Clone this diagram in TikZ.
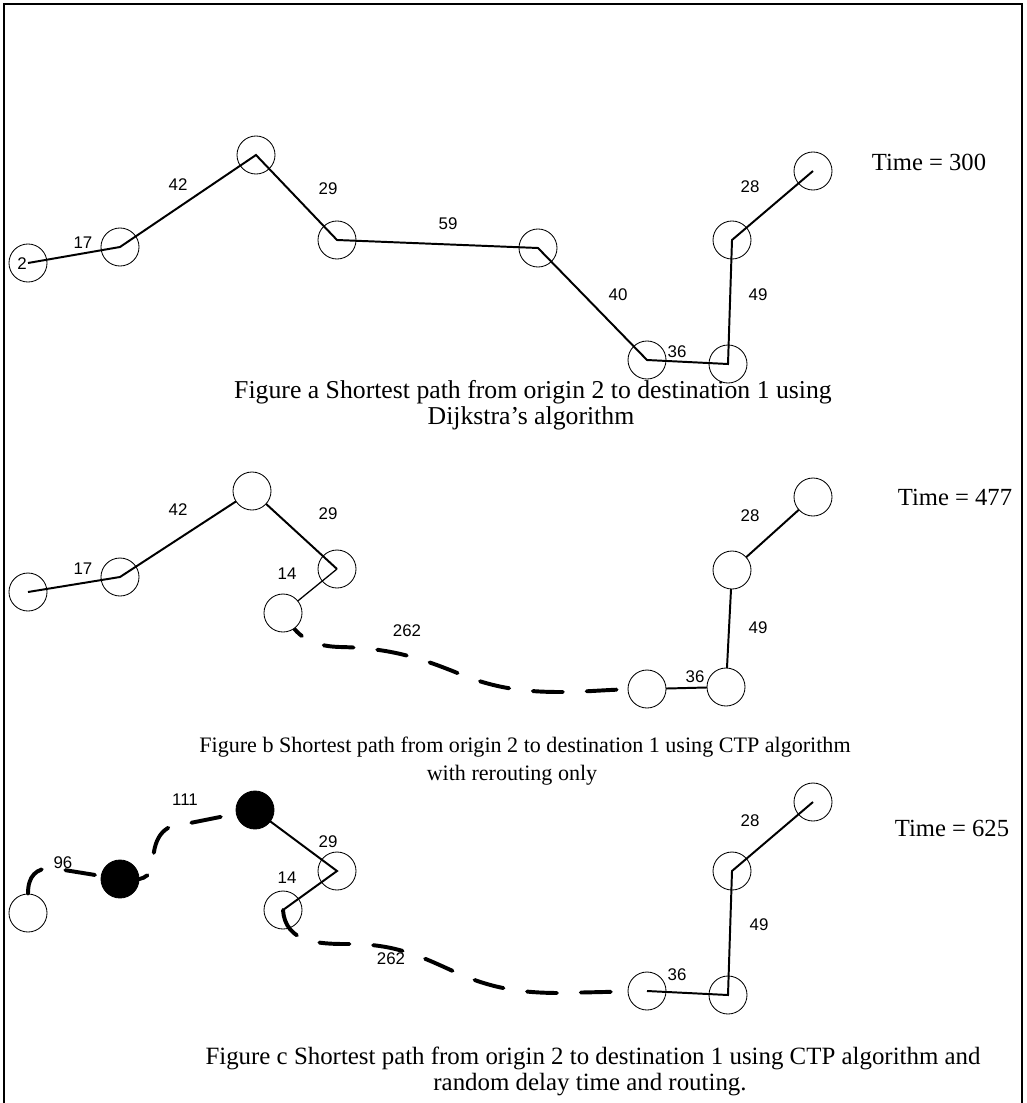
\documentclass[tikz,border=0pt]{standalone}
\usepackage{fontspec}
\setmainfont{Liberation Serif}
\newfontfamily\weightfont{Liberation Sans}
\usetikzlibrary{backgrounds}

\begin{document}
\begin{tikzpicture}[x=0.025cm, y=-0.025cm,
    vertex/.style={draw, circle, minimum size=0.95cm, inner sep=0pt, line width=0.6pt},
    whitevertex/.style={vertex, fill=white},
    blackvertex/.style={vertex, fill=black},
    edge/.style={line width=1.4pt},
    thinedge/.style={line width=0.9pt},
    delayed/.style={line width=2.8pt, line cap=round, dash pattern=on 21.3pt off 17pt},
    weight/.style={font=\weightfont\fontsize{12}{14}\selectfont, inner sep=1pt},
    caption/.style={font=\fontsize{17.5}{19}\selectfont, inner sep=1pt},
    timer/.style={font=\fontsize{17.5}{20}\selectfont, inner sep=1pt}]
  \useasboundingbox (0,0) rectangle (1026,1103);

  % Frame
  \draw[line width=1pt] (4,1103) -- (4,4) -- (1022,4) -- (1022,1103);

  % ---- Figure a ----
  % Nodes
  \node[vertex] (a1) at (28,263) {};
  \node[vertex] (a2) at (120,247) {};
  \node[vertex] (a3) at (256,155) {};
  \node[vertex] (a4) at (337,240) {};
  \node[vertex] (a5) at (538,248) {};
  \node[vertex] (a6) at (647,360) {};
  \node[vertex] (a7) at (728,364) {};
  \node[vertex] (a8) at (732,240) {};
  \node[vertex] (a9) at (813,171) {};

  % Edges
  \draw[edge] (a1.center) -- (a2.center) -- (a3.center) -- (a4.center) -- (a5.center)
    -- (a6.center) -- (a7.center) -- (a8.center) -- (a9.center);

  % Weights
  \node[weight] (wa0) at (22,264) {2};
  \node[weight] (wa1) at (83,243) {17};
  \node[weight] (wa2) at (178,185) {42};
  \node[weight] (wa3) at (328,189) {29};
  \node[weight] (wa4) at (448,224) {59};
  \node[weight] (wa5) at (618,295) {40};
  \node[weight] (wa6) at (677,352) {36};
  \node[weight] (wa7) at (758,295) {49};
  \node[weight] (wa8) at (750,187) {28};

  \node[timer] (timea) at (929,162) {Time = 300};
  \node[caption, font=\fontsize{18.3}{20}\selectfont] (capa1) at (533,392) {Figure a Shortest path from origin 2 to destination 1 using};
  \node[caption, font=\fontsize{18.3}{20}\selectfont] (capa2) at (531,418) {Dijkstra’s algorithm};

  % ---- Figure b ----
  % Weights
  \node[weight] (wb1) at (83,569) {17};
  \node[weight] (wb2) at (178,510) {42};
  \node[weight] (wb3) at (328,514) {29};
  \node[weight] (wb4) at (287,574) {14};
  \node[weight] (wb5) at (407,631) {262};
  \node[weight] (wb6) at (695,677) {36};
  \node[weight] (wb7) at (758,628) {49};
  \node[weight] (wb8) at (750,516) {28};

  % Nodes
  \node[vertex] (b1) at (28,592) {};
  \node[vertex] (b2) at (120,577) {};
  \node[whitevertex] (b3) at (252,491) {};
  \node[vertex] (b4) at (337,569) {};
  \node[whitevertex] (b5) at (283,613) {};
  \node[whitevertex] (b6) at (647,689) {};
  \node[whitevertex] (b7) at (726,687) {};
  \node[whitevertex] (b8) at (732,570) {};
  \node[whitevertex] (b9) at (813,497) {};

  % Edges
  \begin{pgfonlayer}{background}
    \draw[edge] (b1.center) -- (b2.center) -- (b3.center) -- (b4.center);
    \draw[thinedge] (b4.center) -- (b5.center);
    \draw[delayed] (b5.center) .. controls (295,632) and (305,646) .. (340,647)
      .. controls (390,648) and (420,658) .. (455,672)
      .. controls (490,687) and (520,692) .. (560,692)
      .. controls (590,692) and (610,689) .. (b6.center);
    \draw[edge] (b6.center) -- (b7.center) -- (b8.center) -- (b9.center);
  \end{pgfonlayer}

  \node[timer] (timeb) at (955,497) {Time = 477};
  \node[caption, font=\fontsize{15.7}{19}\selectfont] (capb1) at (525,747) {Figure b Shortest path from origin 2 to destination 1 using CTP algorithm};
  \node[caption, font=\fontsize{15.7}{19}\selectfont] (capb2) at (512,775) {with rerouting only};

  % ---- Figure c ----
  % Nodes
  \node[whitevertex] (c1) at (28,913) {};
  \node[blackvertex] (c2) at (120,879) {};
  \node[blackvertex] (c3) at (255,810) {};
  \node[vertex] (c4) at (337,871) {};
  \node[vertex] (c5) at (283,910) {};
  \node[vertex] (c6) at (647,991) {};
  \node[vertex] (c7) at (728,995) {};
  \node[vertex] (c8) at (732,871) {};
  \node[vertex] (c9) at (813,802) {};

  % Edges
  \draw[delayed] (c1.north) .. controls (28,876) and (36,868) .. (52,868)
    -- (c2.center) .. controls (140,882) and (152,878) .. (153,862)
    .. controls (154,835) and (165,823) .. (190,823) -- (c3);
  \draw[edge] (c3.center) -- (c4.center) -- (c5.center);
  \draw[delayed] (c5.center) .. controls (284,925) and (292,936) .. (310,941)
    .. controls (325,944) and (335,944) .. (350,944)
    .. controls (395,944) and (420,956) .. (455,972)
    .. controls (490,988) and (520,993) .. (560,993) -- (c6);
  \draw[edge] (c6.center) -- (c7.center) -- (c8.center) -- (c9.center);

  % Weights
  \node[weight] (wc1) at (63,863) {96};
  \node[weight] (wc2) at (185,800) {111};
  \node[weight] (wc3) at (328,842) {29};
  \node[weight] (wc4) at (287,878) {14};
  \node[weight] (wc5) at (391,959) {262};
  \node[weight] (wc6) at (677,975) {36};
  \node[weight] (wc7) at (759,925) {49};
  \node[weight] (wc8) at (750,821) {28};

  \node[timer] (timec) at (952,828) {Time = 625};
  \node[caption, font=\fontsize{17.7}{19}\selectfont] (capc1) at (593,1058) {Figure c Shortest path from origin 2 to destination 1 using CTP algorithm and};
  \node[caption, font=\fontsize{17.7}{19}\selectfont] (capc2) at (590,1085) {random delay time and routing.};
\end{tikzpicture}
\end{document}
